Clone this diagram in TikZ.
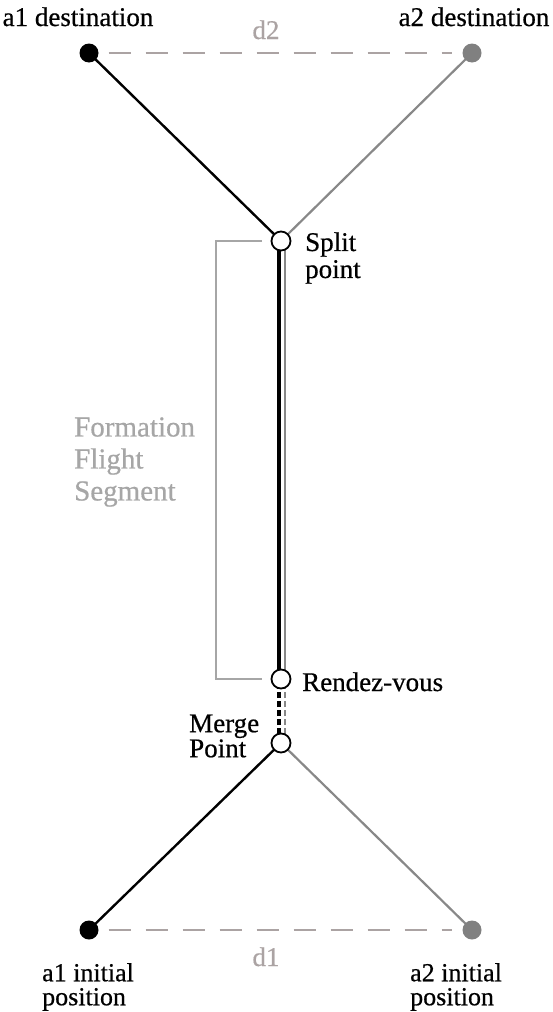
\documentclass[tikz,border=0pt]{standalone}
\usepackage{fontspec}
\setmainfont[FakeBold=0.6]{Liberation Serif}
\usetikzlibrary{backgrounds}
\definecolor{atwo}{HTML}{808080}
\definecolor{atwoline}{HTML}{888888}
\definecolor{segcol}{HTML}{A6A6A6}
\definecolor{sepcol}{HTML}{ABA3A3}
\begin{document}
\begin{tikzpicture}[x=1pt,y=-1pt,
  lbl/.style={font=\fontsize{27}{27}\selectfont, inner sep=0pt},
  endpt/.style={circle, minimum size=19pt, inner sep=0pt},
  waypt/.style={circle, draw=black, line width=1.8pt, fill=white, minimum size=19pt, inner sep=0pt},
  pathA/.style={black, line width=2.4pt},
  pathB/.style={atwoline, line width=2.2pt},
  sepline/.style={sepcol, line width=2.2pt, dash pattern=on 22pt off 15pt, shorten <=10pt, shorten >=10pt},
  seplbl/.style={lbl, text=sepcol},
  bracket/.style={segcol, line width=2.2pt},
]
\useasboundingbox (0,0) rectangle (553,1012);

% aircraft end points and way points
\node[endpt, fill=black] (dA) at (89,53) {};
\node[endpt, fill=atwo] (dB) at (472,53) {};
\node[waypt] (sp) at (281,241) {};
\node[waypt] (rv) at (281,679) {};
\node[waypt] (mg) at (281,743) {};
\node[endpt, fill=black] (iA) at (89,930) {};
\node[endpt, fill=atwo] (iB) at (472,930) {};

% flight paths
\begin{scope}[on background layer]
  \draw[pathA] (iA.center) -- (mg.center);
  \draw[pathB] (iB.center) -- (mg.center);
  \draw[pathA, line width=3.4pt, dash pattern=on 6pt off 3pt] ([xshift=-2pt]mg.center) -- ([xshift=-2pt]rv.center);
  \draw[pathB, dash pattern=on 6pt off 3pt] ([xshift=4pt]mg.center) -- ([xshift=4pt]rv.center);
  \draw[pathA, line width=3.4pt] ([xshift=-2pt]rv.center) -- ([xshift=-2pt]sp.center);
  \draw[pathB] ([xshift=4pt]rv.center) -- ([xshift=4pt]sp.center);
  \draw[pathA] (sp.center) -- (dA.center);
  \draw[pathB] (sp.center) -- (dB.center);
\end{scope}

% separation distances
\draw[sepline] (dA) -- (dB);
\draw[sepline] (iA) -- (iB);
\node[seplbl, anchor=base] (dtwo) at (266,39) {d2};
\node[seplbl, anchor=base] (done) at (266,966) {d1};

% formation segment bracket
\draw[bracket] ([xshift=-19pt]sp.center) -- ++(-46,0) |- ([xshift=-19pt]rv.center);
\node[lbl, text=segcol, align=left, anchor=west, font=\fontsize{29}{32}\selectfont] (fseg) at (74,462) {Formation\\Flight\\Segment};

% labels
\node[lbl, anchor=base] (ldA) at (78,26) {a1 destination};
\node[lbl, anchor=base] (ldB) at (474,26) {a2 destination};
\node[lbl, anchor=west, align=left] (lsp) at (305,258) {Split\\point};
\node[lbl, anchor=base west] (lrv) at (302,691) {Rendez-vous};
\node[lbl, anchor=west, align=left, font=\fontsize{27}{25}\selectfont] (lmg) at (189,736) {Merge\\Point};
\node[lbl, anchor=west, align=left, font=\fontsize{26}{24}\selectfont] (liA) at (42,987) {a1 initial\\position};
\node[lbl, anchor=west, align=left, font=\fontsize{26}{24}\selectfont] (liB) at (410,987) {a2 initial\\position};
\end{tikzpicture}
\end{document}
